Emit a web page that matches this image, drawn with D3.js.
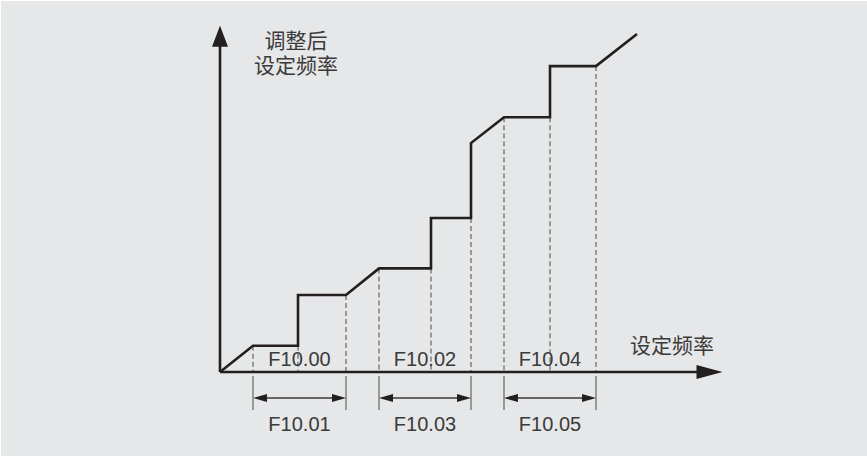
<!DOCTYPE html>
<html>
<head>
<meta charset="utf-8">
<script src="https://cdn.jsdelivr.net/npm/d3@7"></script>
<style>
  html, body { margin: 0; padding: 0; background: #ffffff; }
  svg { display: block; }
</style>
</head>
<body>
<script>
// step curve: set frequency (x) vs adjusted set frequency (y), both in % of axis
var freqPoints = [0, 6.6, 15.6, 15.6, 25.2, 31.8, 42.2, 42.2, 50.2, 50.2, 56.8, 66, 66, 75.2, 83.4];
var adjPoints  = [0, 7.5, 7.5, 22, 22, 29.6, 29.6, 44, 44, 65.4, 72.8, 72.8, 87.4, 87.4, 96.6];

// dashed guide lines: x position and the level they drop from
var guideFreq = [6.6, 15.6, 25.2, 31.8, 42.2, 50.2, 56.8, 66, 75.2];
var guideLevel = [7.5, 7.5, 22, 29.6, 29.6, 44, 72.8, 72.8, 87.4];

// skip bands: [start, end], jump frequency label and width label
var bandStart = [6.6, 31.8, 56.8];
var bandEnd = [25.2, 50.2, 75.2];
var jumpLabels = ["F10.00", "F10.02", "F10.04"];
var widthLabels = ["F10.01", "F10.03", "F10.05"];

var yTitle = ["调整后", "设定频率"];
var xTitle = "设定频率";
var xAxisMax = 100.5, yAxisMax = 98.9;

var W = 867, H = 456;
var svg = d3.select("body").append("svg")
    .attr("width", W)
    .attr("height", H);

svg.append("rect")
    .attr("x", 1).attr("y", 1)
    .attr("width", W - 1).attr("height", H - 1)
    .attr("fill", "#e6e7e8");

var x = d3.scaleLinear().domain([0, 100]).range([220, 720]);
var y = d3.scaleLinear().domain([0, 100]).range([372, 22]);

var ink = "#231f20";
var latin = "'Liberation Sans', Arial, sans-serif";
var cjk = "'Liberation Sans', 'Noto Sans CJK SC', sans-serif";

// dashed guides
svg.selectAll(".guide")
    .data(guideFreq)
    .enter().append("line")
    .attr("class", "guide")
    .attr("x1", function(d) { return x(d); })
    .attr("x2", function(d) { return x(d); })
    .attr("y1", function(d, i) { return y(guideLevel[i]); })
    .attr("y2", y(0))
    .attr("stroke", "#5a5a5a")
    .attr("stroke-width", 1.1)
    .attr("stroke-dasharray", "5,3");

// axes with arrow heads
svg.append("line")
    .attr("x1", x(0)).attr("y1", y(0))
    .attr("x2", x(xAxisMax) - 20).attr("y2", y(0))
    .attr("stroke", ink).attr("stroke-width", 2.6);
svg.append("path")
    .attr("d", "M" + x(xAxisMax) + "," + y(0) +
        "L" + (x(xAxisMax) - 26) + "," + (y(0) - 7) +
        "L" + (x(xAxisMax) - 26) + "," + (y(0) + 7) + "Z")
    .attr("fill", ink);

svg.append("line")
    .attr("x1", x(0)).attr("y1", y(0))
    .attr("x2", x(0)).attr("y2", y(yAxisMax) + 18)
    .attr("stroke", ink).attr("stroke-width", 2.6);
svg.append("path")
    .attr("d", "M" + x(0) + "," + y(yAxisMax) +
        "L" + (x(0) - 8) + "," + (y(yAxisMax) + 21) +
        "L" + (x(0) + 8) + "," + (y(yAxisMax) + 21) + "Z")
    .attr("fill", ink);

// the step curve
var pts = freqPoints.map(function(f, i) { return [f, adjPoints[i]]; });
var line = d3.line()
    .x(function(d) { return x(d[0]); })
    .y(function(d) { return y(d[1]); });
svg.append("path")
    .datum(pts)
    .attr("d", line)
    .attr("fill", "none")
    .attr("stroke", ink)
    .attr("stroke-width", 2.6)
    .attr("stroke-linejoin", "miter");

// width dimension marks under the axis
var dimY = y(0) + 26;
var bands = svg.selectAll(".band")
    .data(bandStart)
    .enter().append("g")
    .attr("class", "band");

bands.each(function(s, i) {
    var g = d3.select(this);
    var x0 = x(s), x1 = x(bandEnd[i]);
    [x0, x1].forEach(function(xx) {
        g.append("line")
            .attr("x1", xx).attr("x2", xx)
            .attr("y1", y(0) + 4).attr("y2", y(0) + 38)
            .attr("stroke", "#6f6f6f").attr("stroke-width", 1.3);
    });
    g.append("line")
        .attr("x1", x0 + 10).attr("x2", x1 - 10)
        .attr("y1", dimY).attr("y2", dimY)
        .attr("stroke", "#3a3a3a").attr("stroke-width", 1.3);
    g.append("path")
        .attr("d", "M" + x0 + "," + dimY + "L" + (x0 + 14) + "," + (dimY - 4) + "L" + (x0 + 14) + "," + (dimY + 4) + "Z")
        .attr("fill", ink);
    g.append("path")
        .attr("d", "M" + x1 + "," + dimY + "L" + (x1 - 14) + "," + (dimY - 4) + "L" + (x1 - 14) + "," + (dimY + 4) + "Z")
        .attr("fill", ink);
    var cx = (x0 + x1) / 2;
    g.append("text")
        .attr("x", cx).attr("y", y(0) - 6)
        .attr("text-anchor", "middle")
        .style("font-family", latin).style("font-size", "20px")
        .attr("fill", "#3a3a3a")
        .text(jumpLabels[i]);
    g.append("text")
        .attr("x", cx).attr("y", y(0) + 59)
        .attr("text-anchor", "middle")
        .style("font-family", latin).style("font-size", "20px")
        .attr("fill", "#3a3a3a")
        .text(widthLabels[i]);
});

// axis titles
svg.selectAll(".ytitle")
    .data(yTitle)
    .enter().append("text")
    .attr("class", "ytitle")
    .attr("x", 296)
    .attr("y", function(d, i) { return 48 + i * 25; })
    .attr("text-anchor", "middle")
    .style("font-family", cjk).style("font-size", "21px")
    .attr("fill", "#3a3a3a")
    .text(function(d) { return d; });

svg.append("text")
    .attr("x", 672).attr("y", 353)
    .attr("text-anchor", "middle")
    .style("font-family", cjk).style("font-size", "21px")
    .attr("fill", "#3a3a3a")
    .text(xTitle);
</script>
</body>
</html>
